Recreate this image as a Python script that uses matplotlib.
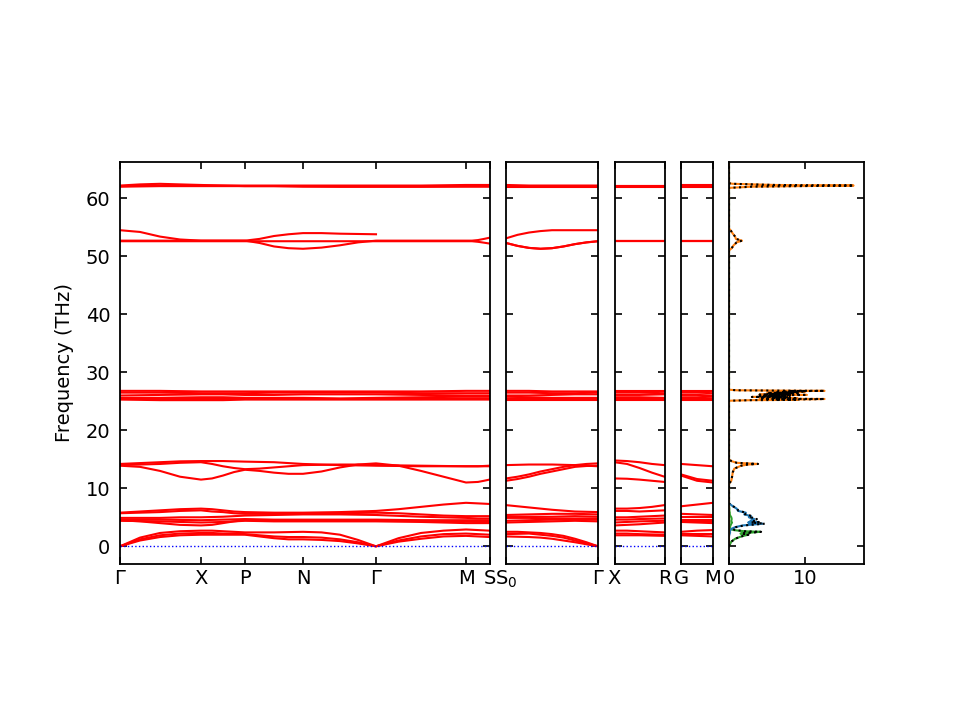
import numpy as np
import matplotlib
matplotlib.use('Agg')
import matplotlib.pyplot as plt

nan = np.nan

# 第一段路径 Γ-X-P-N-Γ-M-S
p1_pos = [0, 20, 40, 60, 81, 92, 103, 114, 125, 139.5, 154, 168.5, 183,
          201.5, 220, 238, 256, 278.5, 301, 323.5, 346, 352, 358, 364, 369.5]
p1_ticks = [0, 81, 125, 183, 256, 346, 369.5]
p1_labels = ['Γ', 'X', 'P', 'N', 'Γ', 'M', 'S']
p1_bands = [
    # 声学支
    [0, 1.5, 2.3, 2.6, 2.7, 2.7, 2.6, 2.5, 2.4, 2.4, 2.4, 2.45, 2.5, 2.4, 2.0, 1.1, 0, 1.4, 2.3, 2.7, 2.9, 2.85, 2.8, 2.75, 2.7],
    [0, 1.2, 1.9, 2.2, 2.3, 2.3, 2.2, 2.2, 2.1, 1.9, 1.7, 1.6, 1.6, 1.5, 1.2, 0.7, 0, 1.0, 1.7, 2.1, 2.2, 2.15, 2.1, 2.05, 2.0],
    [0, 1.0, 1.6, 1.9, 2.0, 2.0, 2.0, 2.0, 2.0, 1.7, 1.4, 1.2, 1.2, 1.1, 0.9, 0.5, 0, 0.8, 1.3, 1.7, 1.8, 1.75, 1.7, 1.65, 1.6],
    # 低频光学支
    [5.8, 6.0, 6.2, 6.4, 6.5, 6.4, 6.2, 6.0, 5.9, 5.85, 5.8, 5.8, 5.8, 5.85, 5.9, 6.0, 6.1, 6.4, 6.8, 7.2, 7.5, 7.45, 7.4, 7.35, 7.3],
    [5.7, 5.8, 5.9, 6.1, 6.2, 6.0, 5.9, 5.7, 5.6, 5.6, 5.6, 5.6, 5.6, 5.65, 5.7, 5.75, 5.8, 5.7, 5.5, 5.3, 5.2, 5.2, 5.2, 5.2, 5.2],
    [4.9, 4.9, 4.9, 5.0, 5.0, 5.05, 5.1, 5.2, 5.3, 5.35, 5.4, 5.45, 5.5, 5.5, 5.5, 5.45, 5.4, 5.25, 5.1, 5.0, 4.9, 4.85, 4.8, 4.8, 4.8],
    [4.6, 4.6, 4.6, 4.55, 4.5, 4.55, 4.6, 4.65, 4.7, 4.65, 4.6, 4.6, 4.6, 4.6, 4.6, 4.6, 4.6, 4.55, 4.5, 4.5, 4.5, 4.5, 4.5, 4.5, 4.5],
    [4.5, 4.3, 4.0, 3.7, 3.6, 3.7, 4.0, 4.3, 4.5, 4.5, 4.5, 4.5, 4.5, 4.5, 4.5, 4.5, 4.5, 4.45, 4.4, 4.35, 4.3, 4.25, 4.2, 4.2, 4.2],
    [4.4, 4.35, 4.3, 4.2, 4.1, 4.15, 4.2, 4.3, 4.4, 4.35, 4.3, 4.3, 4.3, 4.3, 4.3, 4.3, 4.3, 4.25, 4.2, 4.1, 4.0, 4.0, 4.0, 4.0, 4.0],
    # 11-15 THz
    [14.2, 14.35, 14.5, 14.65, 14.7, 14.7, 14.7, 14.65, 14.6, 14.55, 14.5, 14.35, 14.2, 14.1, 14.0, 13.95, 13.9, 13.85, 13.8, 13.8, 13.8, 13.8, 13.8, 13.8, 13.8],
    [13.9, 13.7, 13.0, 12.0, 11.5, 11.7, 12.2, 12.8, 13.2, 13.0, 12.7, 12.5, 12.5, 12.9, 13.6, 14.1, 14.3, 13.9, 13.0, 12.0, 11.0, 11.05, 11.1, 11.3, 11.5],
    [14.0, 14.1, 14.2, 14.4, 14.5, 14.2, 13.8, 13.5, 13.3, 13.4, 13.6, 13.8, 14.0, 14.05, 14.1, 14.1, 14.0, 13.95, 13.9, 13.85, 13.8, 13.8, 13.8, 13.85, 13.9],
    # 25-27 THz
    [26.8, 26.8, 26.8, 26.75, 26.7, 26.7, 26.7, 26.7, 26.7, 26.7, 26.7, 26.7, 26.7, 26.7, 26.7, 26.7, 26.7, 26.7, 26.7, 26.75, 26.8, 26.8, 26.8, 26.8, 26.8],
    [26.5, 26.5, 26.5, 26.45, 26.4, 26.4, 26.4, 26.4, 26.4, 26.45, 26.5, 26.5, 26.5, 26.5, 26.5, 26.5, 26.5, 26.45, 26.4, 26.4, 26.4, 26.4, 26.4, 26.4, 26.4],
    [26.0, 26.05, 26.1, 26.15, 26.2, 26.2, 26.2, 26.15, 26.1, 26.1, 26.1, 26.15, 26.2, 26.2, 26.2, 26.2, 26.2, 26.15, 26.1, 26.05, 26.0, 26.0, 26.0, 26.0, 26.0],
    [25.6, 25.6, 25.6, 25.65, 25.7, 25.7, 25.7, 25.65, 25.6, 25.6, 25.6, 25.6, 25.6, 25.55, 25.5, 25.55, 25.6, 25.65, 25.7, 25.75, 25.8, 25.8, 25.8, 25.8, 25.8],
    [25.4, 25.4, 25.4, 25.4, 25.4, 25.4, 25.4, 25.4, 25.4, 25.4, 25.4, 25.4, 25.4, 25.4, 25.4, 25.4, 25.4, 25.4, 25.4, 25.45, 25.5, 25.5, 25.5, 25.5, 25.5],
    [25.3, 25.25, 25.2, 25.2, 25.2, 25.2, 25.2, 25.25, 25.3, 25.3, 25.3, 25.3, 25.3, 25.3, 25.3, 25.3, 25.3, 25.3, 25.3, 25.3, 25.3, 25.3, 25.3, 25.3, 25.3],
    # 51-55 THz
    [54.5, 54.2, 53.4, 52.9, 52.7, 52.7, 52.7, 52.7, 52.7, 53.0, 53.5, 53.8, 54.0, 54.0, 53.9, 53.85, 53.8, nan, nan, nan, nan, nan, nan, nan, nan],
    [52.7, 52.7, 52.7, 52.7, 52.7, 52.7, 52.7, 52.7, 52.7, 52.3, 51.7, 51.4, 51.3, 51.5, 51.9, 52.4, 52.7, 52.7, 52.7, 52.7, 52.7, 52.7, 52.8, 53.0, 53.2],
    [52.6, 52.6, 52.6, 52.6, 52.6, 52.6, 52.6, 52.6, 52.6, 52.6, 52.6, 52.6, 52.6, 52.6, 52.6, 52.6, 52.6, 52.6, 52.6, 52.6, 52.6, 52.6, 52.5, 52.35, 52.2],
    # 62 THz
    [62.2, 62.4, 62.5, 62.4, 62.3, 62.25, 62.2, 62.2, 62.2, 62.2, 62.2, 62.2, 62.2, 62.2, 62.2, 62.2, 62.2, 62.2, 62.2, 62.25, 62.3, 62.3, 62.3, 62.3, 62.3],
    [62.1, 62.15, 62.2, 62.2, 62.2, 62.2, 62.2, 62.15, 62.1, 62.1, 62.1, 62.1, 62.1, 62.05, 62.0, 62.0, 62.0, 62.0, 62.0, 62.05, 62.1, 62.1, 62.1, 62.1, 62.1],
    [62.0, 62.05, 62.1, 62.1, 62.1, 62.1, 62.1, 62.1, 62.1, 62.1, 62.1, 62.05, 62.0, 62.0, 62.0, 62.0, 62.0, 62.0, 62.0, 62.0, 62.0, 62.0, 62.0, 62.0, 62.0],
]

# 第二段 S0-Γ
p2_pos = [0, 11.5, 23, 34.5, 46, 57.5, 69, 80.5, 92]
p2_ticks = [0, 92]
p2_labels = ['S$_0$', 'Γ']
p2_bands = [
    [2.5, 2.5, 2.4, 2.3, 2.1, 1.8, 1.3, 0.7, 0],
    [2.1, 2.15, 2.2, 2.0, 1.8, 1.5, 1.0, 0.5, 0],
    [1.7, 1.65, 1.6, 1.5, 1.3, 1.0, 0.7, 0.35, 0],
    [7.1, 6.9, 6.7, 6.5, 6.3, 6.15, 6.0, 5.95, 5.9],
    [5.4, 5.45, 5.5, 5.55, 5.6, 5.6, 5.6, 5.55, 5.5],
    [5.1, 5.1, 5.1, 5.1, 5.1, 5.15, 5.2, 5.15, 5.1],
    [4.9, 4.9, 4.9, 4.85, 4.8, 4.8, 4.8, 4.8, 4.8],
    [4.4, 4.45, 4.5, 4.55, 4.6, 4.6, 4.6, 4.6, 4.6],
    [4.1, 4.15, 4.2, 4.25, 4.3, 4.35, 4.4, 4.35, 4.3],
    [14.0, 14.05, 14.1, 14.1, 14.1, 14.05, 14.0, 13.9, 13.8],
    [11.7, 12.0, 12.4, 12.9, 13.3, 13.7, 14.0, 14.2, 14.3],
    [11.3, 11.6, 12.0, 12.5, 12.9, 13.3, 13.7, 13.85, 13.9],
    [26.8, 26.8, 26.8, 26.75, 26.7, 26.7, 26.7, 26.7, 26.7],
    [26.5, 26.5, 26.5, 26.45, 26.4, 26.4, 26.4, 26.45, 26.5],
    [26.0, 26.0, 26.0, 26.05, 26.1, 26.15, 26.2, 26.2, 26.2],
    [25.8, 25.75, 25.7, 25.65, 25.6, 25.6, 25.6, 25.6, 25.6],
    [25.5, 25.5, 25.5, 25.45, 25.4, 25.4, 25.4, 25.4, 25.4],
    [25.3, 25.3, 25.3, 25.3, 25.3, 25.3, 25.3, 25.3, 25.3],
    [53.1, 53.7, 54.1, 54.35, 54.5, 54.5, 54.5, 54.5, 54.5],
    [52.3, 51.8, 51.45, 51.3, 51.4, 51.7, 52.1, 52.4, 52.6],
    [52.3, 51.8, 51.45, 51.3, 51.4, 51.7, 52.1, 52.4, 52.6],
    [62.3, 62.25, 62.2, 62.2, 62.2, 62.2, 62.2, 62.2, 62.2],
    [62.1, 62.1, 62.1, 62.1, 62.1, 62.1, 62.1, 62.1, 62.1],
    [62.0, 62.0, 62.0, 62.0, 62.0, 62.0, 62.0, 62.0, 62.0],
]

# 第三段 X-R
p3_pos = [0, 12.5, 25, 37.5, 50]
p3_ticks = [0, 50]
p3_labels = ['X', 'R']
p3_bands = [
    [2.7, 2.7, 2.6, 2.5, 2.4],
    [2.2, 2.2, 2.1, 2.05, 2.0],
    [1.9, 1.9, 1.9, 1.85, 1.8],
    [6.5, 6.5, 6.6, 6.8, 7.1],
    [6.1, 6.1, 6.0, 6.1, 6.2],
    [5.0, 5.0, 5.1, 5.2, 5.3],
    [4.6, 4.6, 4.7, 4.75, 4.8],
    [4.1, 4.2, 4.3, 4.35, 4.4],
    [3.6, 3.7, 3.8, 3.95, 4.1],
    [14.8, 14.7, 14.5, 14.2, 14.0],
    [14.5, 14.2, 13.5, 12.7, 12.0],
    [11.7, 11.65, 11.5, 11.3, 11.1],
    [26.8, 26.8, 26.8, 26.8, 26.8],
    [26.5, 26.5, 26.5, 26.45, 26.4],
    [26.1, 26.1, 26.1, 26.15, 26.2],
    [25.7, 25.7, 25.7, 25.65, 25.6],
    [25.4, 25.4, 25.4, 25.4, 25.4],
    [25.3, 25.3, 25.3, 25.3, 25.3],
    [52.6, 52.6, 52.6, 52.6, 52.6],
    [52.6, 52.6, 52.6, 52.6, 52.6],
    [52.6, 52.6, 52.6, 52.6, 52.6],
    [62.2, 62.2, 62.2, 62.2, 62.2],
    [62.1, 62.1, 62.1, 62.1, 62.1],
    [62.0, 62.0, 62.0, 62.0, 62.0],
]

# 第四段 G-M
p4_pos = [0, 16, 32]
p4_ticks = [0, 32]
p4_labels = ['G', 'M']
p4_bands = [
    [2.5, 2.7, 2.8],
    [2.2, 2.2, 2.2],
    [1.9, 1.8, 1.7],
    [6.9, 7.2, 7.5],
    [5.6, 5.5, 5.4],
    [5.0, 5.0, 5.0],
    [4.6, 4.6, 4.6],
    [4.4, 4.3, 4.3],
    [4.2, 4.1, 4.0],
    [14.2, 14.0, 13.8],
    [12.4, 11.6, 11.3],
    [12.2, 11.3, 11.0],
    [26.8, 26.8, 26.8],
    [26.5, 26.5, 26.4],
    [26.1, 26.1, 26.0],
    [25.7, 25.7, 25.8],
    [25.4, 25.4, 25.5],
    [25.3, 25.3, 25.3],
    [52.6, 52.6, 52.6],
    [52.6, 52.6, 52.6],
    [52.6, 52.6, 52.6],
    [62.3, 62.3, 62.3],
    [62.1, 62.1, 62.1],
    [62.0, 62.0, 62.0],
]

# 态密度 (频率, 各分态密度)
dos_freq = [0.0, 0.8, 1.3, 1.7, 2.0, 2.2, 2.4, 2.5, 2.6, 2.8, 3.0, 3.3, 3.6, 3.9,
            4.1, 4.2, 4.4, 4.7, 5.0, 5.2, 5.5, 5.8, 6.1, 6.5, 7.0, 7.4,
            10.8, 11.3, 12.0, 12.8, 13.4, 13.9, 14.1, 14.2, 14.4, 14.7, 15.0,
            25.10, 25.20, 25.25, 25.30, 25.35, 25.40, 25.45, 25.50, 25.55, 25.60,
            25.65, 25.70, 25.75, 25.80, 25.85, 25.90, 25.95, 26.00, 26.05, 26.10,
            26.15, 26.20, 26.25, 26.30, 26.35, 26.40, 26.45, 26.50, 26.55, 26.60,
            26.65, 26.70, 26.75, 26.80, 26.85, 26.90, 27.00,
            51.0, 51.4, 51.9, 52.4, 52.7, 53.0, 53.4, 53.9, 54.4, 54.8,
            61.8, 62.0, 62.1, 62.2, 62.3, 62.5, 62.6, 66.0]
dos_green = [0, 0.3, 0.8, 1.6, 2.5, 1.5, 3.2, 4.1, 2.0, 0.6, 0.2, 0.1, 0.2, 0.3,
             0.4, 0.3, 0.3, 0.35, 0.3, 0.2, 0.1, 0.1, 0.05, 0.05, 0, 0,
             0, 0, 0, 0, 0, 0, 0, 0, 0, 0, 0,
             0, 0, 0, 0, 0, 0, 0, 0, 0, 0,
             0, 0, 0, 0, 0, 0, 0, 0, 0, 0,
             0, 0, 0, 0, 0, 0, 0, 0, 0, 0,
             0, 0, 0, 0, 0, 0, 0,
             0, 0, 0, 0, 0, 0, 0, 0, 0, 0,
             0, 0, 0, 0, 0, 0, 0, 0]
dos_blue = [0, 0, 0, 0, 0.05, 0.1, 0.15, 0.1, 0.1, 0.2, 0.3, 0.8, 1.8, 4.4,
            2.5, 3.6, 2.8, 3.3, 2.6, 2.9, 2.0, 2.2, 1.2, 1.0, 0.4, 0,
            0, 0, 0, 0, 0, 0, 0, 0, 0, 0, 0,
            0, 0, 0, 0, 0, 0, 0, 0, 0, 0,
            0, 0, 0, 0, 0, 0, 0, 0, 0, 0,
            0, 0, 0, 0, 0, 0, 0, 0, 0, 0,
            0, 0, 0, 0, 0, 0, 0,
            0, 0, 0, 0, 0, 0, 0, 0, 0, 0,
            0, 0, 0, 0, 0, 0, 0, 0]
dos_orange = [0, 0, 0, 0, 0, 0, 0, 0, 0, 0, 0, 0, 0, 0,
              0, 0, 0, 0, 0, 0, 0, 0, 0, 0, 0, 0,
              0, 0.3, 0.4, 0.5, 0.7, 1.6, 2.5, 3.8, 1.0, 0.3, 0,
              0, 3.0, 9.0, 6.0, 11.0, 12.5, 5.0, 9.0, 4.0, 8.0,
              6.0, 7.8, 3.0, 6.0, 4.0, 7.0, 5.0, 8.0, 6.0, 10.2,
              4.0, 7.0, 5.0, 8.0, 6.0, 9.0, 5.0, 8.0, 6.0, 9.0,
              7.0, 10.0, 8.0, 12.5, 6.0, 1.0, 0,
              0, 0.35, 0.6, 1.0, 1.7, 0.9, 0.8, 0.5, 0.25, 0,
              0, 3.0, 9.0, 16.3, 6.0, 0.5, 0, 0]

ymin, ymax = -3.05, 66.26

fig = plt.figure(figsize=(9.6, 7.2), dpi=100)
plt.rcParams['font.size'] = 14

# 各子图位置 (像素换算成比例)
bottom = 1 - 564 / 720
height = (564 - 162) / 720
boxes = [(120, 369.5), (506, 92), (614.5, 50), (681, 32)]
paths = [(p1_pos, p1_bands, p1_ticks, p1_labels),
         (p2_pos, p2_bands, p2_ticks, p2_labels),
         (p3_pos, p3_bands, p3_ticks, p3_labels),
         (p4_pos, p4_bands, p4_ticks, p4_labels)]

for i, (box, path) in enumerate(zip(boxes, paths)):
    ax = fig.add_axes([box[0] / 960, bottom, box[1] / 960, height])
    pos, bands, ticks, labels = path
    for b in bands:
        ax.plot(pos, b, 'r-', lw=1.5)
    ax.plot([pos[0], pos[-1]], [0, 0], 'b:', lw=1)
    ax.set_xlim(pos[0], pos[-1])
    ax.set_ylim(ymin, ymax)
    ax.set_xticks(ticks)
    ax.set_xticklabels(labels)
    ax.set_yticks(range(0, 70, 10))
    ax.tick_params(direction='in', top=True, right=True, length=5, width=1.2,
                   labelsize=14, labelleft=(i == 0))
    ax.tick_params(axis='y', pad=7)
    for s in ax.spines.values():
        s.set_linewidth(1.3)
    if i == 0:
        ax.set_ylabel('Frequency (THz)', fontsize=14, labelpad=8)

# 态密度
ax = fig.add_axes([729 / 960, bottom, 134.5 / 960, height])
green = np.array(dos_green)
blue = np.array(dos_blue)
orange = np.array(dos_orange)
ax.plot(green, dos_freq, color='#2ca02c', lw=1.5)
ax.plot(blue, dos_freq, color='#1f77b4', lw=1.5)
ax.plot(orange, dos_freq, color='#ff7f0e', lw=1.5)
ax.plot(green + blue + orange, dos_freq, 'k:', lw=1.5)
ax.set_xlim(0, 17.6)
ax.set_ylim(ymin, ymax)
ax.set_xticks([0, 10])
ax.set_yticks(range(0, 70, 10))
ax.tick_params(direction='in', top=True, right=True, length=5, width=1.2,
               labelsize=14, labelleft=False)
for s in ax.spines.values():
    s.set_linewidth(1.3)

plt.savefig('out.png', dpi=100)
